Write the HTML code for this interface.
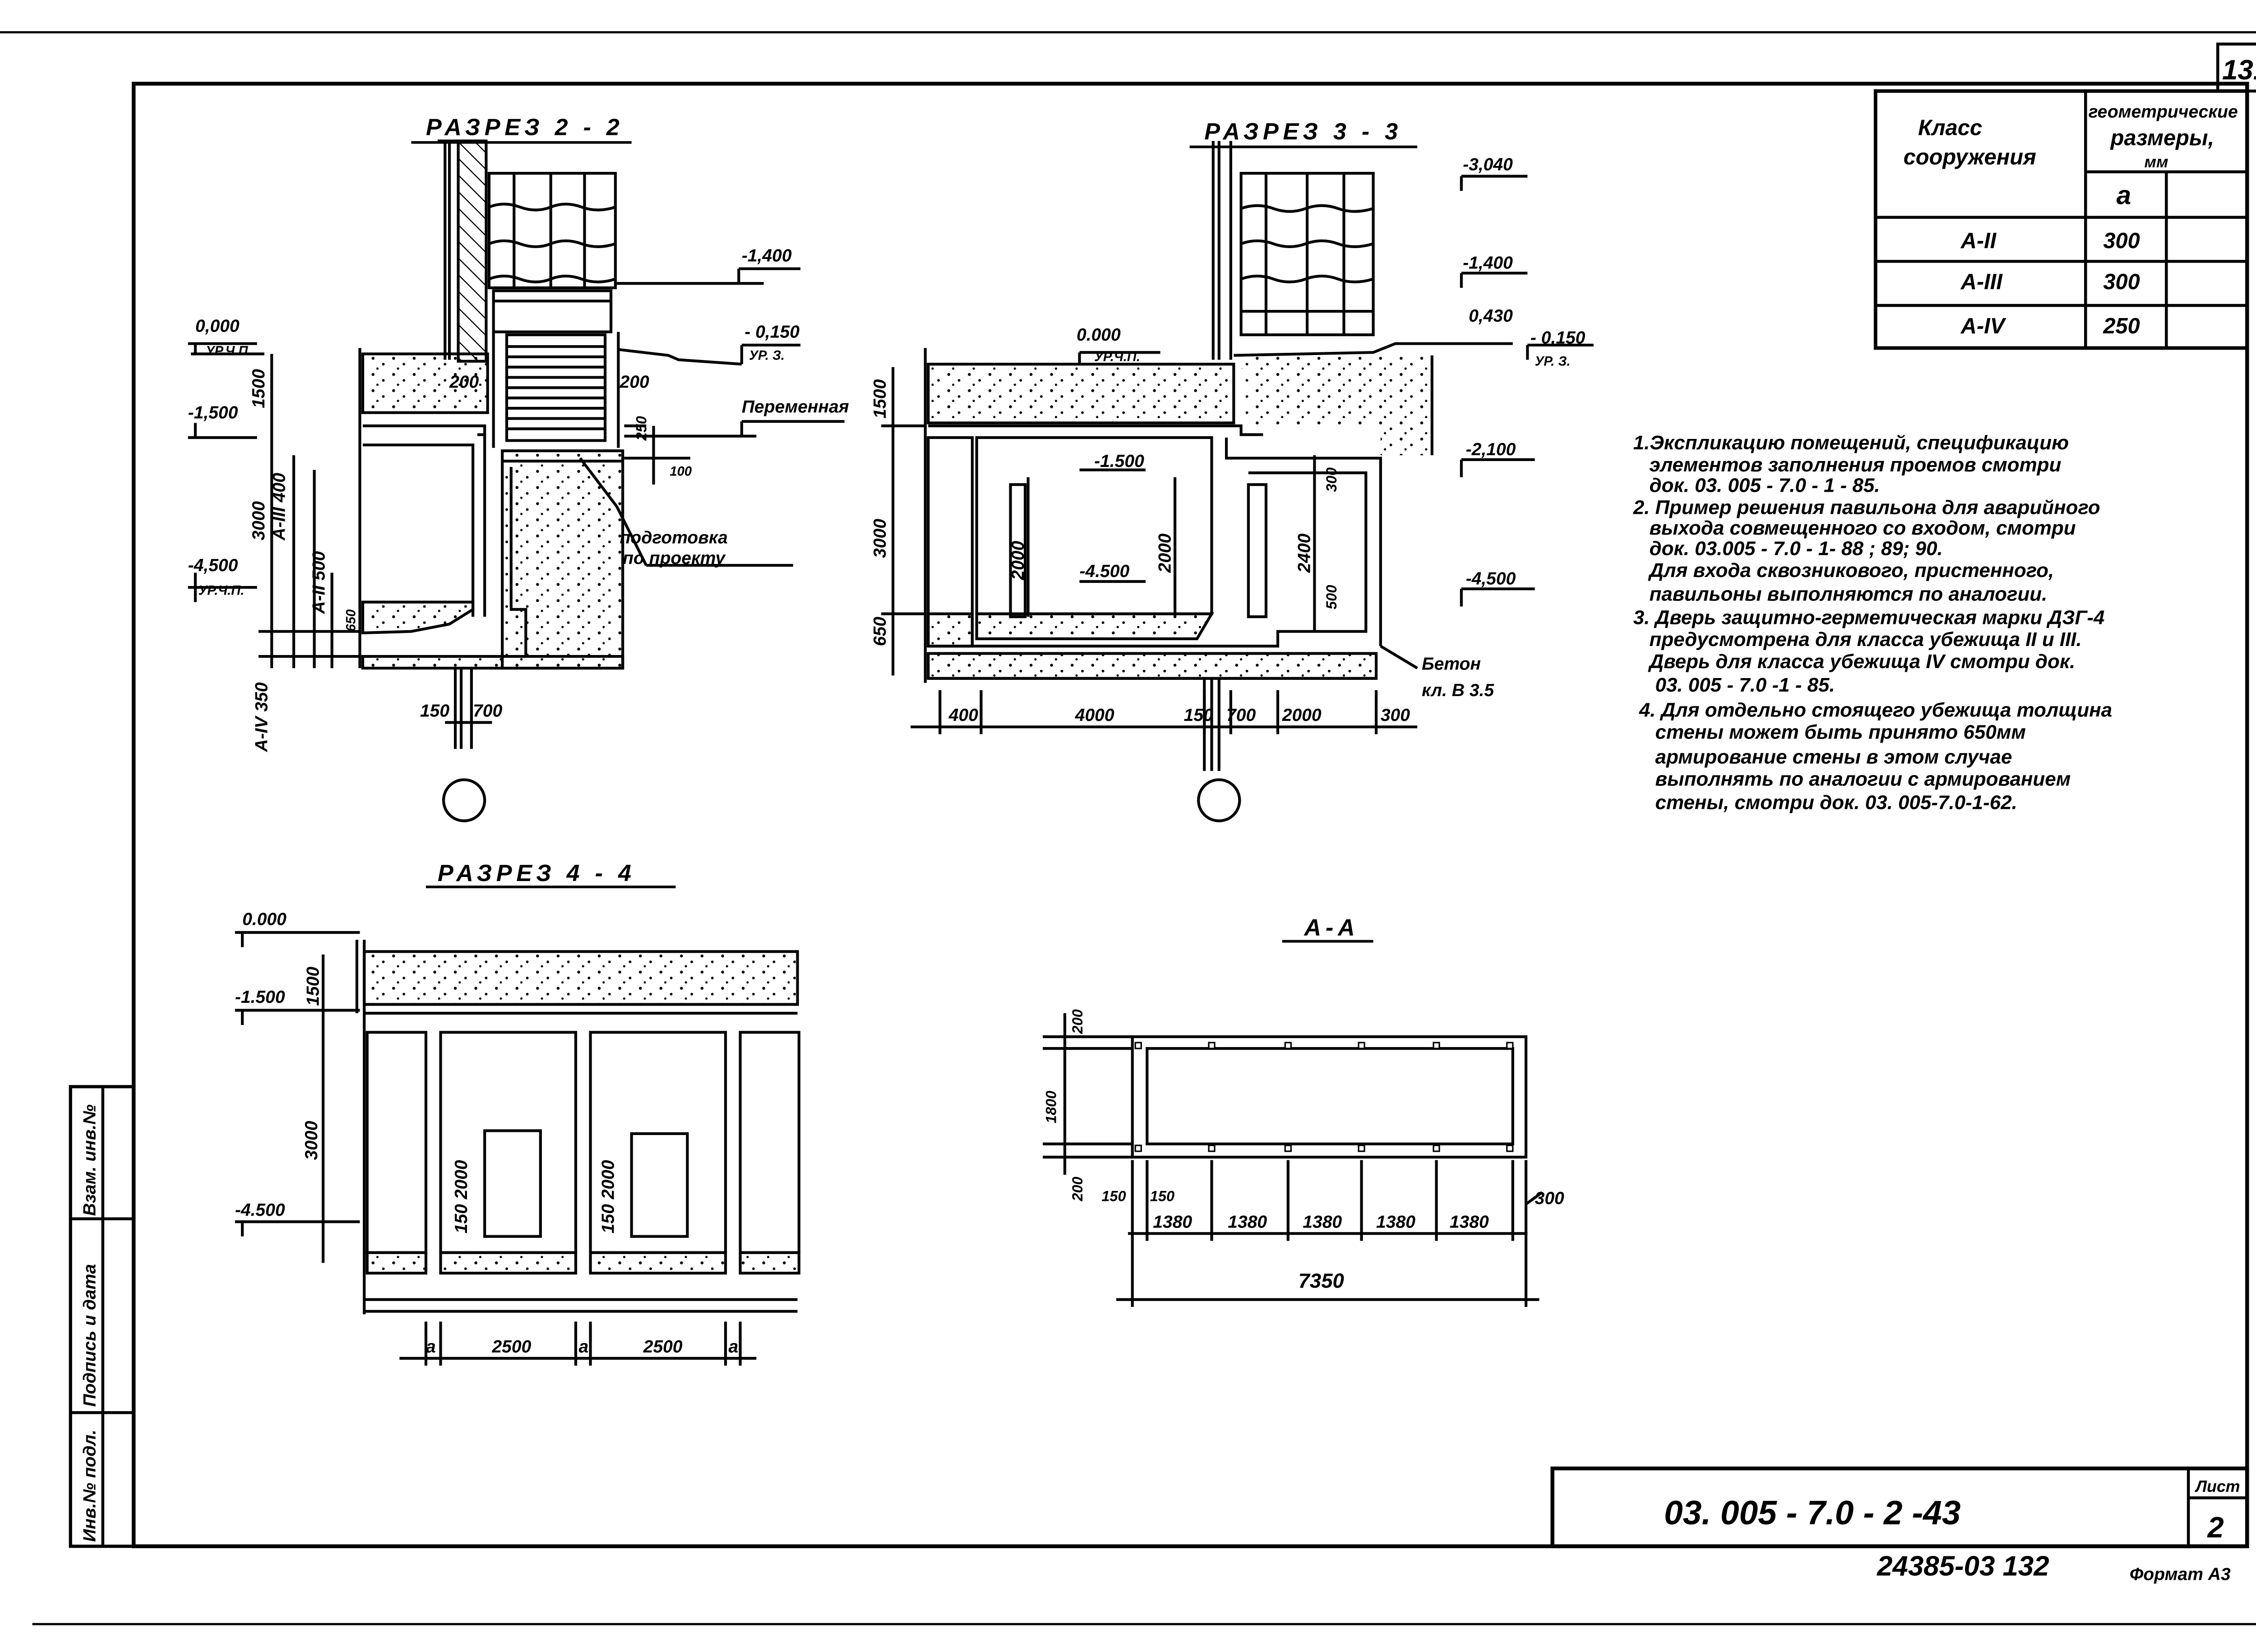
<!DOCTYPE html>
<html><head><meta charset="utf-8"><style>
html,body{margin:0;padding:0;background:#fff}
svg{display:block}
text{font-family:"Liberation Sans","DejaVu Sans",sans-serif;font-style:italic;fill:#000;font-weight:bold}
</style></head><body>
<svg width="5078" height="3662" viewBox="0 0 1560 1125" preserveAspectRatio="none" xmlns="http://www.w3.org/2000/svg">
<defs>
<pattern id="dots" width="14" height="11" patternUnits="userSpaceOnUse">
<circle cx="2" cy="2" r="1" fill="#000"/><circle cx="9" cy="6" r="0.9" fill="#000"/><circle cx="5" cy="9" r="0.8" fill="#000"/>
</pattern>
<pattern id="hatch" width="8" height="8" patternUnits="userSpaceOnUse" patternTransform="rotate(-45)">
<line x1="0" y1="0" x2="0" y2="8" stroke="#000" stroke-width="1.5"/>
</pattern>
</defs>
<g fill="none" stroke="#000">
<line x1="0" y1="22" x2="1548" y2="22" stroke-width="1.5"/>
<line x1="1548" y1="0" x2="1548" y2="1105" stroke-width="2"/>
<line x1="22" y1="1106" x2="1548" y2="1106" stroke-width="1.5"/>
<rect x="1510" y="30" width="38" height="32" stroke-width="2"/>
<rect x="91" y="57" width="1439" height="996" stroke-width="2.6"/>
<polyline points="91,740 48,740 48,1053 91,1053" stroke-width="2.2"/>
<line x1="70" y1="740" x2="70" y2="1053" stroke-width="2"/>
<line x1="48" y1="830" x2="91" y2="830" stroke-width="2"/>
<line x1="48" y1="962" x2="91" y2="962" stroke-width="2"/>
<rect x="1057" y="1000" width="473" height="53" stroke-width="2.6"/>
<line x1="1490" y1="1000" x2="1490" y2="1053" stroke-width="2"/>
<line x1="1490" y1="1020" x2="1530" y2="1020" stroke-width="2"/>
<rect x="1277" y="62" width="253" height="175" stroke-width="2.4"/>
<line x1="1420" y1="62" x2="1420" y2="237" stroke-width="2"/>
<line x1="1475" y1="117" x2="1475" y2="237" stroke-width="2"/>
<line x1="1420" y1="117" x2="1530" y2="117" stroke-width="2"/>
<line x1="1277" y1="148" x2="1530" y2="148" stroke-width="2"/>
<line x1="1277" y1="178" x2="1530" y2="178" stroke-width="2"/>
<line x1="1277" y1="208" x2="1530" y2="208" stroke-width="2"/>
</g>
<g font-size="15">
<text x="1513" y="54" font-size="19" font-style="normal">131</text>
<text x="1306" y="92">Класс</text>
<text x="1296" y="112">сооружения</text>
<text x="1422" y="80" font-size="12">геометрические</text>
<text x="1437" y="99">размеры,</text>
<text x="1460" y="114" font-size="11">мм</text>
<text x="1441" y="139" font-size="18">а</text>
<text x="1335" y="169">А-II</text>
<text x="1335" y="197">А-III</text>
<text x="1335" y="227">А-IV</text>
<text x="1432" y="169">300</text>
<text x="1432" y="197">300</text>
<text x="1432" y="227">250</text>
<text x="1133" y="1038" font-size="23" font-style="normal" font-weight="normal">03. 005 - 7.0 - 2 -43</text>
<text x="1495" y="1016" font-size="11">Лист</text>
<text x="1503" y="1047" font-size="20">2</text>
<text x="1278" y="1073" font-size="19" font-style="normal" font-weight="normal">24385-03  132</text>
<text x="1450" y="1076" font-size="12">Формат А3</text>
<text transform="translate(65,1050) rotate(-90)" font-size="12">Инв.№ подл.</text>
<text transform="translate(65,958) rotate(-90)" font-size="12">Подпись и дата</text>
<text transform="translate(65,828) rotate(-90)" font-size="12">Взам. инв.№</text>
</g>

<g font-size="13.5">
<text x="1112" y="306">1.Экспликацию помещений, спецификацию</text>
<text x="1123" y="321">элементов заполнения проемов смотри</text>
<text x="1123" y="335">док. 03. 005 - 7.0 - 1 - 85.</text>
<text x="1112" y="350">2. Пример решения павильона для аварийного</text>
<text x="1123" y="364">выхода совмещенного со входом, смотри</text>
<text x="1123" y="378">док.     03.005 - 7.0 - 1- 88 ; 89; 90.</text>
<text x="1123" y="393">Для входа сквозникового, пристенного,</text>
<text x="1123" y="409">павильоны выполняются по аналогии.</text>
<text x="1112" y="425">3. Дверь защитно-герметическая марки ДЗГ-4</text>
<text x="1123" y="440">предусмотрена для класса убежища  II и III.</text>
<text x="1123" y="455">Дверь для класса  убежища IV смотри док.</text>
<text x="1127" y="471">03. 005 - 7.0 -1 - 85.</text>
<text x="1116" y="488">4. Для отдельно стоящего убежища толщина</text>
<text x="1127" y="503">стены может быть принято  650мм</text>
<text x="1127" y="520">армирование стены в этом случае</text>
<text x="1127" y="535">выполнять по аналогии с армированием</text>
<text x="1127" y="551">стены, смотри док.      03. 005-7.0-1-62.</text>
</g>

<g font-size="16" letter-spacing="3">
<text x="290" y="92">РАЗРЕЗ  2 - 2</text>
<text x="820" y="95">РАЗРЕЗ  3 - 3</text>
<text x="298" y="600">РАЗРЕЗ  4 - 4</text>
<text x="888" y="637">А-А</text>
</g>
<g stroke="#000" stroke-width="1.8">
<line x1="280" y1="97" x2="430" y2="97"/>
<line x1="810" y1="100" x2="965" y2="100"/>
<line x1="290" y1="604" x2="460" y2="604"/>
<line x1="873" y1="641" x2="935" y2="641"/>
</g>

<!-- Section 2-2 -->
<g fill="none" stroke="#000" stroke-width="1.9">
<line x1="298" y1="96" x2="330" y2="96"/>
<line x1="303" y1="96" x2="303" y2="245"/>
<line x1="306" y1="96" x2="306" y2="245"/>
<rect x="312" y="96" width="19" height="150" fill="url(#hatch)"/>
<rect x="333" y="118" width="86" height="78"/>
<line x1="350" y1="118" x2="350" y2="196"/><line x1="375" y1="118" x2="375" y2="196"/><line x1="398" y1="118" x2="398" y2="196"/>
<path d="M333,141 q10,-4 21,0 t21,0 t21,0 t23,0 M333,166 q10,-4 21,0 t21,0 t21,0 t23,0 M333,190 q10,-4 21,0 t21,0 t21,0 t23,0"/>
<rect x="336" y="198" width="80" height="28"/>
<line x1="336" y1="205" x2="416" y2="205"/>
<rect x="345" y="228" width="67" height="72"/>
<path d="M345,236H412M345,243H412M345,250H412M345,257H412M345,264H412M345,271H412M345,278H412M345,285H412M345,292H412"/>
<line x1="336" y1="226" x2="336" y2="305"/><line x1="421" y1="226" x2="421" y2="305"/>
<path d="M421,238 L455,242 L462,245 L505,248"/>
<rect x="247" y="241" width="85" height="40" fill="url(#dots)"/>
<line x1="130" y1="241" x2="180" y2="241"/>
<line x1="245" y1="237" x2="245" y2="455"/>
<polyline points="247,290 330,290 330,296 325,296"/>
<polyline points="247,303 322,303 322,420"/>
<line x1="330" y1="296" x2="330" y2="420"/>
<rect x="342" y="307" width="82" height="148" fill="url(#dots)"/>
<line x1="342" y1="314" x2="424" y2="314"/>
<polyline points="348,318 348,415 358,415 358,447 247,447"/>
<polygon points="247,410 322,410 322,415 306,425 280,430 247,431" fill="url(#dots)"/>
<rect x="247" y="447" width="177" height="8" fill="url(#dots)"/>
<line x1="310" y1="455" x2="310" y2="510"/><line x1="314" y1="455" x2="314" y2="510"/><line x1="321" y1="455" x2="321" y2="510"/>
<circle cx="316" cy="545" r="14"/>
<line x1="395" y1="312" x2="420" y2="345"/><line x1="420" y1="345" x2="440" y2="385"/><line x1="440" y1="385" x2="540" y2="385"/>
<line x1="503" y1="183" x2="545" y2="183"/><line x1="503" y1="183" x2="503" y2="193"/><line x1="420" y1="193" x2="520" y2="193"/>
<line x1="505" y1="235" x2="545" y2="235"/><line x1="505" y1="235" x2="505" y2="248"/>
<line x1="505" y1="287" x2="575" y2="287"/><line x1="505" y1="287" x2="505" y2="297"/><line x1="425" y1="297" x2="515" y2="297"/>
<line x1="128" y1="234" x2="175" y2="234"/><line x1="133" y1="234" x2="133" y2="241"/>
<line x1="128" y1="298" x2="175" y2="298"/><line x1="133" y1="288" x2="133" y2="298"/>
<line x1="128" y1="400" x2="175" y2="400"/><line x1="133" y1="390" x2="133" y2="410"/>
<line x1="185" y1="241" x2="185" y2="455"/>
<line x1="200" y1="310" x2="200" y2="455"/><line x1="214" y1="320" x2="214" y2="455"/><line x1="226" y1="390" x2="226" y2="455"/>
<line x1="176" y1="430" x2="245" y2="430"/><line x1="176" y1="447" x2="245" y2="447"/>
<line x1="303" y1="492" x2="335" y2="492"/>
<line x1="425" y1="290" x2="440" y2="290"/><line x1="445" y1="290" x2="445" y2="330"/><line x1="425" y1="312" x2="470" y2="312"/>
</g>
<g font-size="12">
<text x="505" y="178">-1,400</text>
<text x="507" y="230">- 0,150</text><text x="510" y="245" font-size="9">УР. З.</text>
<text x="505" y="281">Переменная</text>
<text x="133" y="226">0,000</text><text x="140" y="242" font-size="9">УР.Ч.П</text>
<text x="128" y="285">-1,500</text>
<text x="128" y="389">-4,500</text><text x="135" y="405" font-size="9">УР.Ч.П.</text>
<text x="306" y="264">200</text><text x="422" y="264">200</text>
<text x="422" y="370">подготовка</text><text x="424" y="384">по проекту</text>
<text x="286" y="488">150</text><text x="322" y="488">700</text>
<text x="456" y="324" font-size="9">100</text>
<text transform="translate(180,278) rotate(-90)">1500</text>
<text transform="translate(180,368) rotate(-90)">3000</text>
<text transform="translate(194,368) rotate(-90)">А-III 400</text>
<text transform="translate(221,418) rotate(-90)">А-II 500</text>
<text transform="translate(182,512) rotate(-90)">А-IV  350</text>
<text transform="translate(440,300) rotate(-90)" font-size="10">250</text>
<text transform="translate(242,430) rotate(-90)" font-size="9">650</text>
</g>

<!-- Section 3-3 -->
<g fill="none" stroke="#000" stroke-width="1.9">
<line x1="826" y1="96" x2="826" y2="245"/><line x1="830" y1="96" x2="830" y2="245"/><line x1="838" y1="96" x2="838" y2="245"/>
<rect x="845" y="118" width="90" height="110"/>
<line x1="862" y1="118" x2="862" y2="228"/><line x1="890" y1="118" x2="890" y2="228"/><line x1="915" y1="118" x2="915" y2="228"/>
<path d="M845,142 q11,-4 22,0 t22,0 t22,0 t24,0 M845,166 q11,-4 22,0 t22,0 t22,0 t24,0 M845,190 q11,-4 22,0 t22,0 t22,0 t24,0"/>
<line x1="845" y1="212" x2="935" y2="212"/>
<rect x="632" y="248" width="208" height="40" fill="url(#dots)"/>
<line x1="630" y1="237" x2="630" y2="465"/>
<path d="M840,242 L935,240 L950,234 L1030,234" />
<polygon points="845,242 975,242 975,310 940,310 940,290 848,290" fill="url(#dots)" stroke="none"/>
<line x1="975" y1="242" x2="975" y2="310"/>
<polyline points="632,290 840,290 845,290 845,296 860,296"/>
<rect x="632" y="298" width="30" height="142"/>
<rect x="665" y="298" width="160" height="120"/>
<polyline points="835,298 835,312 940,312 940,440"/>
<polyline points="850,322 930,322 930,430 870,430 870,440 632,440"/>
<rect x="850" y="330" width="12" height="90"/>
<rect x="688" y="330" width="10" height="90"/>
<polygon points="665,418 825,418 815,435 665,435" fill="url(#dots)"/>
<rect x="632" y="418" width="30" height="22" fill="url(#dots)"/>
<rect x="632" y="445" width="305" height="17" fill="url(#dots)"/>
<line x1="632" y1="462" x2="937" y2="462"/>
<line x1="820" y1="462" x2="820" y2="525"/><line x1="825" y1="462" x2="825" y2="525"/><line x1="830" y1="462" x2="830" y2="525"/>
<circle cx="830" cy="545" r="14"/>
<line x1="620" y1="495" x2="965" y2="495"/>
<line x1="640" y1="470" x2="640" y2="500"/><line x1="668" y1="470" x2="668" y2="500"/><line x1="820" y1="470" x2="820" y2="500"/><line x1="838" y1="470" x2="838" y2="500"/><line x1="870" y1="470" x2="870" y2="500"/><line x1="937" y1="470" x2="937" y2="500"/>
<line x1="608" y1="250" x2="608" y2="460"/>
<line x1="600" y1="290" x2="630" y2="290"/><line x1="600" y1="418" x2="630" y2="418"/>
<line x1="735" y1="240" x2="790" y2="240"/><line x1="735" y1="240" x2="735" y2="248"/>
<line x1="995" y1="120" x2="1040" y2="120"/><line x1="995" y1="120" x2="995" y2="130"/>
<line x1="995" y1="186" x2="1040" y2="186"/><line x1="995" y1="186" x2="995" y2="196"/>
<line x1="995" y1="313" x2="1045" y2="313"/><line x1="995" y1="313" x2="995" y2="325"/>
<line x1="995" y1="401" x2="1045" y2="401"/><line x1="995" y1="401" x2="995" y2="413"/>
<line x1="1040" y1="235" x2="1085" y2="235"/><line x1="1040" y1="235" x2="1040" y2="245"/>
<line x1="735" y1="320" x2="780" y2="320"/><line x1="735" y1="396" x2="780" y2="396"/>
<line x1="700" y1="325" x2="700" y2="420"/><line x1="800" y1="325" x2="800" y2="420"/><line x1="895" y1="310" x2="895" y2="430"/>
<line x1="940" y1="440" x2="965" y2="455"/>
</g>
<g font-size="12">
<text x="733" y="232">0.000</text><text x="745" y="246" font-size="9">УР.Ч.П.</text>
<text x="996" y="116">-3,040</text>
<text x="996" y="183">-1,400</text>
<text x="1000" y="219">0,430</text>
<text x="1042" y="234">- 0,150</text><text x="1045" y="249" font-size="9">УР. З.</text>
<text x="998" y="310">-2,100</text>
<text x="998" y="398">-4,500</text>
<text x="745" y="318">-1.500</text>
<text x="735" y="393">-4.500</text>
<text x="968" y="456">Бетон</text><text x="968" y="474">кл. В 3.5</text>
<text x="646" y="491">400</text><text x="732" y="491">4000</text><text x="806" y="491">150</text><text x="835" y="491">700</text><text x="873" y="491">2000</text><text x="940" y="491">300</text>
<text transform="translate(603,285) rotate(-90)">1500</text>
<text transform="translate(603,380) rotate(-90)">3000</text>
<text transform="translate(603,440) rotate(-90)">650</text>
<text transform="translate(697,395) rotate(-90)">2000</text>
<text transform="translate(797,390) rotate(-90)">2000</text>
<text transform="translate(892,390) rotate(-90)">2400</text>
<text transform="translate(910,335) rotate(-90)" font-size="10">300</text>
<text transform="translate(910,415) rotate(-90)" font-size="10">500</text>
</g>

<!-- Section 4-4 -->
<g fill="none" stroke="#000" stroke-width="1.9">
<rect x="248" y="648" width="295" height="36" fill="url(#dots)"/>
<line x1="248" y1="690" x2="543" y2="690"/>
<line x1="248" y1="640" x2="248" y2="895"/>
<rect x="250" y="703" width="40" height="150"/>
<rect x="300" y="703" width="92" height="150"/>
<rect x="402" y="703" width="92" height="150"/>
<rect x="504" y="703" width="40" height="150"/>
<rect x="330" y="770" width="38" height="72"/>
<rect x="430" y="772" width="38" height="70"/>
<rect x="250" y="853" width="40" height="14" fill="url(#dots)"/>
<rect x="300" y="853" width="92" height="14" fill="url(#dots)"/>
<rect x="402" y="853" width="92" height="14" fill="url(#dots)"/>
<rect x="504" y="853" width="40" height="14" fill="url(#dots)"/>
<line x1="248" y1="885" x2="543" y2="885"/><line x1="248" y1="893" x2="543" y2="893"/>
<line x1="243" y1="640" x2="243" y2="690"/>
<line x1="160" y1="635" x2="245" y2="635"/><line x1="165" y1="635" x2="165" y2="645"/>
<line x1="160" y1="688" x2="245" y2="688"/><line x1="165" y1="688" x2="165" y2="698"/>
<line x1="160" y1="832" x2="245" y2="832"/><line x1="165" y1="832" x2="165" y2="842"/>
<line x1="220" y1="650" x2="220" y2="860"/>
<line x1="272" y1="925" x2="515" y2="925"/>
<line x1="290" y1="900" x2="290" y2="930"/><line x1="300" y1="900" x2="300" y2="930"/><line x1="392" y1="900" x2="392" y2="930"/><line x1="402" y1="900" x2="402" y2="930"/><line x1="494" y1="900" x2="494" y2="930"/><line x1="504" y1="900" x2="504" y2="930"/>
</g>
<g font-size="12">
<text x="165" y="630">0.000</text>
<text x="160" y="683">-1.500</text>
<text x="160" y="828">-4.500</text>
<text x="335" y="921">2500</text><text x="438" y="921">2500</text>
<text x="290" y="921">а</text><text x="394" y="921">а</text><text x="496" y="921">а</text>
<text transform="translate(217,685) rotate(-90)">1500</text>
<text transform="translate(216,790) rotate(-90)">3000</text>
<text transform="translate(318,840) rotate(-90)">150 2000</text>
<text transform="translate(418,840) rotate(-90)">150 2000</text>
</g>

<!-- A-A -->
<g fill="none" stroke="#000" stroke-width="1.9">
<rect x="771" y="706" width="268" height="82"/>
<rect x="781" y="714" width="249" height="65"/>
<line x1="710" y1="706" x2="771" y2="706"/><line x1="710" y1="714" x2="771" y2="714"/><line x1="710" y1="779" x2="771" y2="779"/><line x1="710" y1="788" x2="771" y2="788"/>
<line x1="725" y1="690" x2="725" y2="800"/>
<line x1="768" y1="840" x2="1040" y2="840"/>
<line x1="771" y1="790" x2="771" y2="890"/><line x1="781" y1="790" x2="781" y2="845"/>
<line x1="825" y1="790" x2="825" y2="845"/><line x1="877" y1="790" x2="877" y2="845"/><line x1="927" y1="790" x2="927" y2="845"/><line x1="978" y1="790" x2="978" y2="845"/><line x1="1030" y1="790" x2="1030" y2="845"/>
<line x1="1039" y1="790" x2="1039" y2="890"/>
<line x1="760" y1="885" x2="1048" y2="885"/>
<line x1="1039" y1="820" x2="1050" y2="812"/>
</g>
<g fill="#fff" stroke="#000" stroke-width="1">
<rect x="823" y="710" width="4" height="4"/><rect x="875" y="710" width="4" height="4"/><rect x="925" y="710" width="4" height="4"/><rect x="976" y="710" width="4" height="4"/><rect x="1026" y="710" width="4" height="4"/><rect x="773" y="710" width="4" height="4"/>
<rect x="823" y="780" width="4" height="4"/><rect x="875" y="780" width="4" height="4"/><rect x="925" y="780" width="4" height="4"/><rect x="976" y="780" width="4" height="4"/><rect x="1026" y="780" width="4" height="4"/><rect x="773" y="780" width="4" height="4"/>
</g>
<g font-size="12">
<text x="785" y="836">1380</text><text x="836" y="836">1380</text><text x="887" y="836">1380</text><text x="937" y="836">1380</text><text x="987" y="836">1380</text>
<text x="750" y="818" font-size="10">150</text><text x="783" y="818" font-size="10">150</text>
<text x="1045" y="820">300</text>
<text x="884" y="877" font-size="14">7350</text>
<text transform="translate(737,704) rotate(-90)" font-size="10">200</text>
<text transform="translate(719,765) rotate(-90)" font-size="10">1800</text>
<text transform="translate(737,818) rotate(-90)" font-size="10">200</text>
</g>
</svg>
</body></html>
